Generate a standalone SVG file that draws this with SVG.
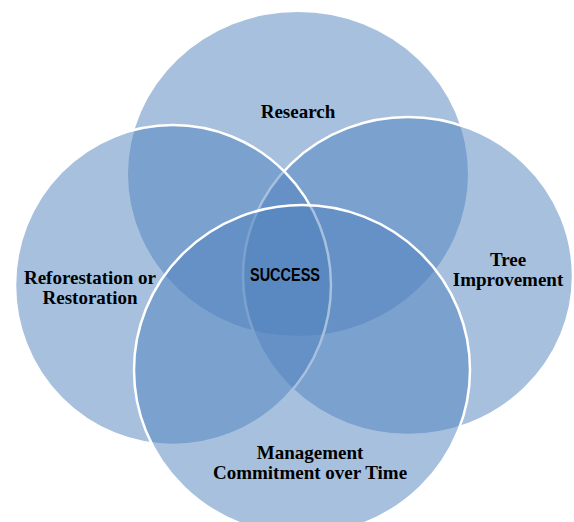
<svg xmlns="http://www.w3.org/2000/svg" width="574" height="522" viewBox="0 0 574 522">
  <style>
    .set { fill: #4F81BD; fill-opacity: 0.5; }
    .edge { stroke: #FFFFFF; stroke-width: 2.5; }
    .label { font-family: "Liberation Serif", "Times New Roman", serif; font-weight: bold; font-size: 19px; fill: #000000; text-anchor: middle; }
    .core { font-family: "Liberation Sans", Arial, sans-serif; font-weight: bold; font-size: 18px; fill: #000000; text-anchor: middle; }
  </style>
  <rect width="574" height="522" fill="#FFFFFF"/>

  <!-- four overlapping sets, drawn back to front -->
  <g id="research">
    <ellipse class="set" cx="298" cy="174" rx="170" ry="162"/>
    <text class="label" x="298" y="118">Research</text>
  </g>

  <g id="tree-improvement">
    <ellipse class="set edge" cx="408" cy="276" rx="165" ry="159"/>
    <text class="label" x="508" y="266">Tree</text>
    <text class="label" x="508" y="286">Improvement</text>
  </g>

  <g id="reforestation">
    <ellipse class="set edge" cx="173" cy="285" rx="158" ry="160"/>
    <text class="label" x="90" y="284">Reforestation or</text>
    <text class="label" x="90" y="304">Restoration</text>
  </g>

  <g id="management">
    <ellipse class="set edge" cx="302" cy="370" rx="168" ry="165"/>
    <text class="label" x="310" y="459">Management</text>
    <text class="label" x="310" y="479">Commitment over Time</text>
  </g>

  <!-- shared centre -->
  <g id="success">
    <text class="core" x="285" y="281" textLength="70" lengthAdjust="spacingAndGlyphs">SUCCESS</text>
  </g>
</svg>
